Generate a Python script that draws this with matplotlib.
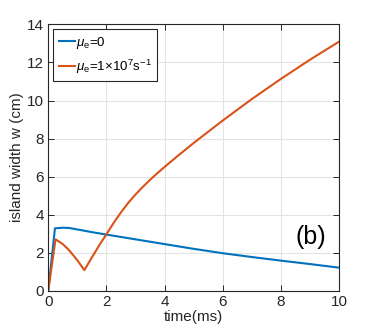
import matplotlib

matplotlib.use('Agg')

from matplotlib import pyplot as plt
import numpy as np

# time (ms) and island width (cm)
t_blue = [0, 0.23, 0.5, 0.71, 1.0, 1.5, 2.0, 3.0, 4.0, 5.0, 6.0, 7.0, 8.0, 9.0, 10.0]
w_blue = [0, 3.28, 3.31, 3.30, 3.22, 3.08, 2.95, 2.70, 2.45, 2.20, 1.97, 1.77, 1.58, 1.40, 1.21]

t_orange = [0, 0.25, 0.5, 0.71, 1.0, 1.24, 1.5, 1.75, 2.0, 2.25, 2.5, 2.75, 3.0,
            3.25, 3.5, 3.75, 4.0, 4.5, 5.0, 6.0, 7.0, 8.0, 9.0, 10.0]
w_orange = [0, 2.70, 2.45, 2.14, 1.60, 1.08, 1.75, 2.38, 2.97, 3.57, 4.12, 4.62, 5.06,
            5.46, 5.83, 6.18, 6.51, 7.15, 7.77, 8.95, 10.08, 11.14, 12.15, 13.10]

labels = [r'$\mu_\mathrm{e}$=0', r'$\mu_\mathrm{e}$=1×10$^7$s$^{-1}$']

plt.rcParams['font.family'] = ['Liberation Sans', 'DejaVu Sans']
plt.rcParams['mathtext.fontset'] = 'custom'
plt.rcParams['mathtext.rm'] = 'Liberation Sans'
plt.rcParams['mathtext.it'] = 'Liberation Sans:italic'
plt.rcParams['font.size'] = 11


def main():
  fig = plt.figure(figsize=(3.74, 3.32), dpi=100)
  ax = fig.add_axes([0.129, 0.1244, 0.778, 0.802])
  ax.plot(t_blue, w_blue, color='#0072BD', lw=1.5, label=labels[0])
  ax.plot(t_orange, w_orange, color='#D95319', lw=1.5, label=labels[1])

  ax.set_xlim(0, 10)
  ax.set_ylim(0, 14)
  ax.set_xticks([0, 2, 4, 6, 8, 10])
  ax.set_yticks([0, 2, 4, 6, 8, 10, 12, 14])
  ax.grid(True, color='#e3e3e3', lw=0.8)
  ax.set_axisbelow(True)
  ax.tick_params(direction='in', top=True, right=True, length=4, width=0.7,
                 colors='#262626', labelsize=11, pad=3)
  for s in ax.spines.values():
    s.set_color('#262626')
    s.set_linewidth(0.8)

  ax.set_xlabel('time(ms)', labelpad=1, color='#262626')
  ax.set_ylabel('island width w (cm)', labelpad=2, color='#262626')
  ax.text(9.03, 2.8, '(b)', fontsize=18, ha='center', va='center', color='black')

  leg = ax.legend(loc='upper left', fancybox=False, edgecolor='#262626',
                  handlelength=1.2, handletextpad=0.1, borderpad=0.4,
                  borderaxespad=0.37, labelspacing=0.5, framealpha=1, fontsize=9.6)
  leg.get_frame().set_linewidth(0.8)

  fig.savefig('out.png', dpi=100)


if __name__ == '__main__':
  main()
